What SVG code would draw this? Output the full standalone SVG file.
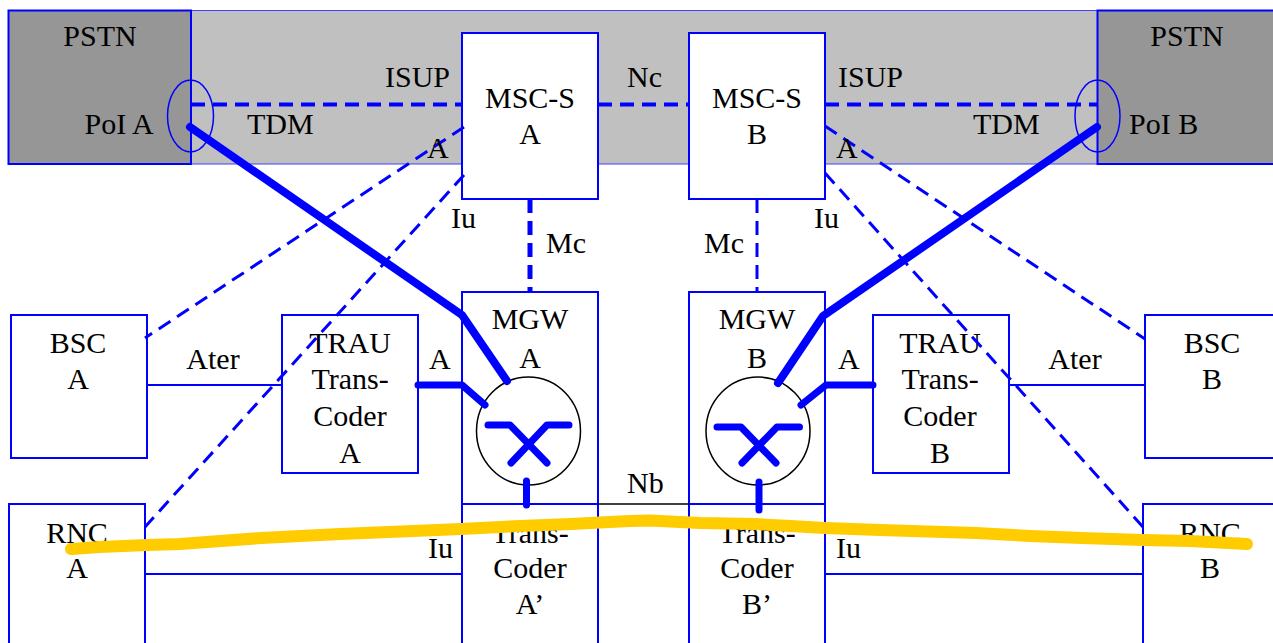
<svg xmlns="http://www.w3.org/2000/svg" width="1273" height="643" viewBox="0 0 1273 643">
<style>
text{font-family:"Liberation Serif","Times New Roman",serif;font-size:30px;fill:#000}
.m{text-anchor:middle}
.box{fill:#fff;stroke:#0000ff;stroke-width:2}
.dark{fill:#969696;stroke:#0000ff;stroke-width:2}
.thin{fill:none;stroke:#0000ff;stroke-width:2}
.dash{fill:none;stroke:#0000ff;stroke-width:3;stroke-dasharray:14 8}
.dashb{fill:none;stroke:#0000ff;stroke-width:4;stroke-dasharray:14 8}
.thick{fill:none;stroke:#0000ff;stroke-width:8;stroke-linecap:round;stroke-linejoin:round}
.med{fill:none;stroke:#0000ff;stroke-width:7;stroke-linecap:round;stroke-linejoin:round}
.sw{fill:#fff;stroke:#000;stroke-width:1.5}
.oval{fill:none;stroke:#0000ff;stroke-width:1.5}
</style>
<rect id="band" x="191" y="10.500" width="907" height="153.500" fill="#c0c0c0" stroke="#4040ff" stroke-width="1"/>
<g id="pstn-a"><rect class="dark" x="8.500" y="10.500" width="182.500" height="153.500"/><text class="m" x="100" y="46">PSTN</text><text x="84.500" y="133.500">PoI A</text></g>
<g id="pstn-b"><rect class="dark" x="1097.500" y="10.500" width="190" height="153.500"/><text class="m" x="1187" y="46">PSTN</text><text x="1129" y="133.500">PoI B</text></g>
<g id="msc-a"><rect class="box" x="462" y="33" width="136" height="166"/><text class="m" x="530" y="107.500">MSC-S</text><text class="m" x="530" y="143.500">A</text></g>
<g id="msc-b"><rect class="box" x="689" y="33" width="136" height="166"/><text class="m" x="757" y="107.500">MSC-S</text><text class="m" x="757" y="143.500">B</text></g>
<g id="mgw-a"><rect class="box" x="462" y="292" width="136" height="212"/><text class="m" x="530" y="328.500">MGW</text><text class="m" x="530" y="367.500">A</text></g>
<g id="mgw-b"><rect class="box" x="689" y="292" width="136" height="212"/><text class="m" x="757" y="328.500">MGW</text><text class="m" x="757" y="367.500">B</text></g>
<g id="tc-a"><rect class="box" x="462" y="504" width="136" height="150"/><text class="m" x="530" y="542.500">Trans-</text><text class="m" x="530" y="577.500">Coder</text><text class="m" x="530" y="613.500">A’</text></g>
<g id="tc-b"><rect class="box" x="689" y="504" width="136" height="150"/><text class="m" x="757" y="542.500">Trans-</text><text class="m" x="757" y="577.500">Coder</text><text class="m" x="757" y="613.500">B’</text></g>
<g id="bsc-a"><rect class="box" x="11" y="315" width="136" height="143"/><text class="m" x="78" y="352.500">BSC</text><text class="m" x="78" y="388.500">A</text></g>
<g id="bsc-b"><rect class="box" x="1145" y="315" width="136" height="143"/><text class="m" x="1212" y="352.500">BSC</text><text class="m" x="1212" y="388.500">B</text></g>
<g id="trau-a"><rect class="box" x="282" y="315" width="136" height="158"/><text class="m" x="350" y="352.500">TRAU</text><text class="m" x="350" y="388.500">Trans-</text><text class="m" x="350" y="425.500">Coder</text><text class="m" x="350" y="462.500">A</text></g>
<g id="trau-b"><rect class="box" x="873" y="315" width="136" height="158"/><text class="m" x="940" y="352.500">TRAU</text><text class="m" x="940" y="388.500">Trans-</text><text class="m" x="940" y="425.500">Coder</text><text class="m" x="940" y="462.500">B</text></g>
<g id="rnc-a"><rect class="box" x="9" y="504" width="136" height="150"/><text class="m" x="77" y="542.500">RNC</text><text class="m" x="77" y="577.500">A</text></g>
<g id="rnc-b"><rect class="box" x="1143" y="504" width="136" height="150"/><text class="m" x="1210" y="542.500">RNC</text><text class="m" x="1210" y="577.500">B</text></g>
<g id="switch-a"><ellipse class="sw" cx="528.500" cy="431" rx="52" ry="54"/><path class="med" d="M488 425H510L547 463M569 425H547L511 463"/></g>
<g id="switch-b"><ellipse class="sw" cx="758" cy="431" rx="52" ry="54"/><path class="med" d="M717 427H741L776 463M799.500 427H777L742 463"/></g>
<g id="connectors">
<ellipse class="oval" cx="190.500" cy="116" rx="23" ry="36"/>
<ellipse class="oval" cx="1097.500" cy="116" rx="22.500" ry="36"/>
<path class="dashb" d="M191 104.500H462M598 104.500H689M825 104.500H1097"/>
<path class="dashb" d="M530 199V292" style="stroke-width:5"/>
<path class="dash" d="M757 199V292"/>
<path class="dash" d="M464 127L145 338M464 175L145 527M825 126L1145 339M825 173L1143 527"/>
<path class="thin" d="M147 385H282M1009 385H1145M145 574H462M825 574H1143"/>
<path d="M598 504H689" fill="none" stroke="#000" stroke-width="1.500"/>
<path class="thick" d="M190 127L462 315L507 381M1097 127L823 316L778 383"/>
<path class="med" d="M418 385H462L485 405M873 385H826L801 405M526.500 481V505M759 482V510"/>
</g>
<g id="labels">
<text x="385" y="86.500">ISUP</text><text x="627" y="86.500">Nc</text><text x="838" y="86.500">ISUP</text>
<text x="247" y="133.500">TDM</text><text x="973" y="133.500">TDM</text>
<text x="427" y="157.500">A</text><text x="836" y="157.500">A</text>
<text x="451" y="227.500">Iu</text><text x="814" y="227.500">Iu</text>
<text x="546" y="252.500">Mc</text><text x="704" y="252.500">Mc</text>
<text class="m" x="213" y="368.500">Ater</text><text class="m" x="1075" y="368.500">Ater</text>
<text x="429" y="368.500">A</text><text x="838" y="368.500">A</text>
<text x="627" y="492.500">Nb</text>
<text x="428" y="557.500">Iu</text><text x="836" y="557.500">Iu</text>
</g>
<path id="highlight" d="M71 549L100 547L147 545L180 544L261 538L340 534L461 529L520 526L571 524L600 522.500L630 521L650 520.500L670 521.500L700 523L755 524L790 526L825 528L880 530L976 533L1030 536L1082 538L1143 540L1190 541L1247 544" fill="none" stroke="#ffcc00" stroke-width="12" stroke-linecap="round" stroke-linejoin="round"/>
</svg>
